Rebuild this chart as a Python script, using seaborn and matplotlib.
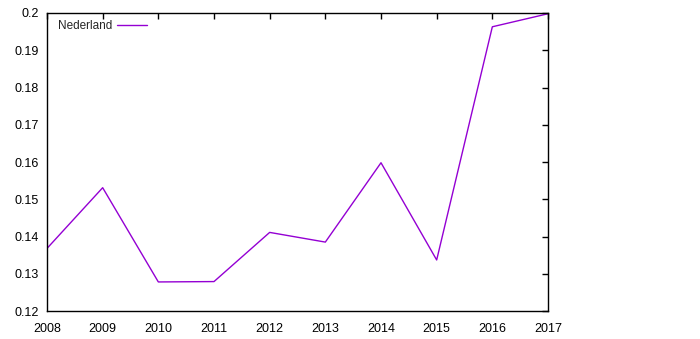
import matplotlib
matplotlib.use("Agg")
import matplotlib.pyplot as plt
import seaborn as sns
import pandas as pd
from matplotlib.ticker import FuncFormatter

years = [2008, 2009, 2010, 2011, 2012, 2013, 2014, 2015, 2016, 2017]
values = [0.1368, 0.1531, 0.1278, 0.1279, 0.1411, 0.1385, 0.1598, 0.1337, 0.1963, 0.1998]
series_name = "Nederland"
y_ticks = [0.12, 0.13, 0.14, 0.15, 0.16, 0.17, 0.18, 0.19, 0.2]

df = pd.DataFrame({"year": years, "value": values, "series": series_name})

sns.set_style("white")
plt.rcParams["font.family"] = ["Liberation Sans", "DejaVu Sans"]

fig = plt.figure(figsize=(7.0, 3.39), dpi=100)
ax = fig.add_axes([47 / 700, 1 - 311 / 339, (548 - 47) / 700, (311 - 13) / 339])

sns.lineplot(data=df, x="year", y="value", hue="series", palette=["#9400D3"],
             linewidth=1.0, ax=ax)

ax.set_xlim(2008, 2017)
ax.set_ylim(0.12, 0.2)
ax.set_xticks(years)
ax.set_yticks(y_ticks)
ax.yaxis.set_major_formatter(FuncFormatter(lambda v, p: f"{v:g}"))
ax.xaxis.set_major_formatter(FuncFormatter(lambda v, p: f"{int(round(v))}"))
ax.set_xlabel("")
ax.set_ylabel("")
for s in ax.spines.values():
    s.set_visible(True)
    s.set_color("black")
    s.set_linewidth(1.0)
ax.tick_params(direction="in", length=4.5, width=1, top=True, right=True,
               labelsize=9, colors="black")
ax.tick_params(axis="y", pad=6)
ax.tick_params(axis="x", pad=9)
ax.tick_params(axis="x", labeltop=False)
ax.tick_params(axis="y", labelright=False)
ax.grid(False)

leg = ax.legend(loc="upper left", markerfirst=False, frameon=False, fontsize=8.5,
                handlelength=2.6, borderaxespad=0.05, handletextpad=0.35,
                bbox_to_anchor=(0.012, 0.993))

fig.savefig("out.png", dpi=100)
